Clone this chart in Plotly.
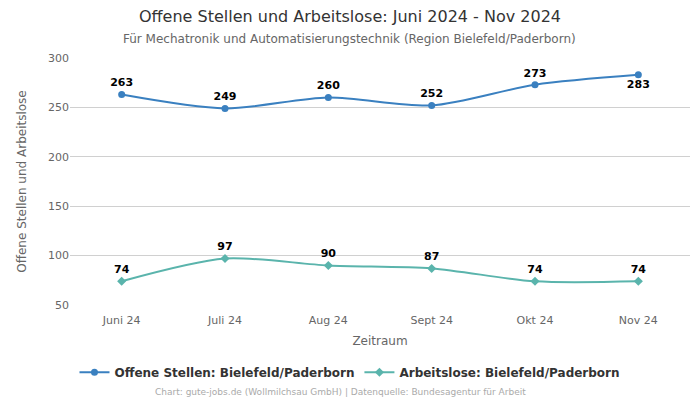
import plotly.graph_objects as go

categories = ["Juni 24", "Juli 24", "Aug 24", "Sept 24", "Okt 24", "Nov 24"]
offene = [263, 249, 260, 252, 273, 283]
arbeitslose = [74, 97, 90, 87, 74, 74]
offene_pos = ["top center"] * 5 + ["bottom center"]
arb_pos = ["top center"] * 6

fig = go.Figure()
fig.add_trace(go.Scatter(
    x=categories, y=offene, mode="lines+markers+text",
    name="Offene Stellen: Bielefeld/Paderborn",
    line=dict(color="#3a80c0", width=2, shape="spline", smoothing=0.8),
    marker=dict(size=7, symbol="circle", color="#3a80c0"),
    text=[str(v) for v in offene], textposition=offene_pos,
    textfont=dict(family="DejaVu Sans", size=11, color="#000000", weight="bold"),
    cliponaxis=False,
))
fig.add_trace(go.Scatter(
    x=categories, y=arbeitslose, mode="lines+markers+text",
    name="Arbeitslose: Bielefeld/Paderborn",
    line=dict(color="#5ab4ac", width=2, shape="spline", smoothing=0.8),
    marker=dict(size=7, symbol="diamond", color="#5ab4ac"),
    text=[str(v) for v in arbeitslose], textposition=arb_pos,
    textfont=dict(family="DejaVu Sans", size=11, color="#000000", weight="bold"),
    cliponaxis=False,
))

fig.update_layout(
    width=700, height=400,
    margin=dict(l=70, r=10, t=58, b=95, autoexpand=False),
    paper_bgcolor="white", plot_bgcolor="white",
    font=dict(family="DejaVu Sans", color="#666666", size=11),
    xaxis=dict(
        range=[-0.5, 5.5], showgrid=False, ticks="", showline=False, automargin=False,
        title=dict(text="Zeitraum", font=dict(size=12, color="#666666"), standoff=10),
        tickfont=dict(size=11, color="#666666"), ticklabelstandoff=7,
    ),
    yaxis=dict(
        range=[50, 300], tickvals=[50, 100, 150, 200, 250, 300], automargin=False,
        showgrid=True, gridcolor="#d0d0d0", gridwidth=1, zeroline=False,
        title=dict(text="Offene Stellen und Arbeitslose", font=dict(size=12, color="#666666"), standoff=18),
        tickfont=dict(size=11, color="#666666"),
    ),
    legend=dict(
        orientation="h", x=0.4516, xanchor="center", y=-0.272, yanchor="middle",
        font=dict(size=12, color="#333333", weight="bold"), itemwidth=30,
    ),
    showlegend=True,
)
fig.add_annotation(
    text="Offene Stellen und Arbeitslose: Juni 2024 - Nov 2024",
    xref="paper", yref="paper", x=0.4516, y=1.166, xanchor="center", yanchor="middle",
    showarrow=False, font=dict(size=16, color="#333333"),
)
fig.add_annotation(
    text="Für Mechatronik und Automatisierungstechnik (Region Bielefeld/Paderborn)",
    xref="paper", yref="paper", x=0.4516, y=1.077, xanchor="center", yanchor="middle",
    showarrow=False, font=dict(size=12, color="#666666"),
)
fig.add_annotation(
    text="Chart: gute-jobs.de (Wollmilchsau GmbH) | Datenquelle: Bundesagentur für Arbeit",
    xref="paper", yref="paper", x=0.4355, y=-0.352, xanchor="center", yanchor="middle",
    showarrow=False, font=dict(size=9, color="#aaaaaa"),
)
fig.write_html("out.html", config={"displayModeBar": False},
               post_script="document.body.style.margin='0';document.body.style.padding='0';")
